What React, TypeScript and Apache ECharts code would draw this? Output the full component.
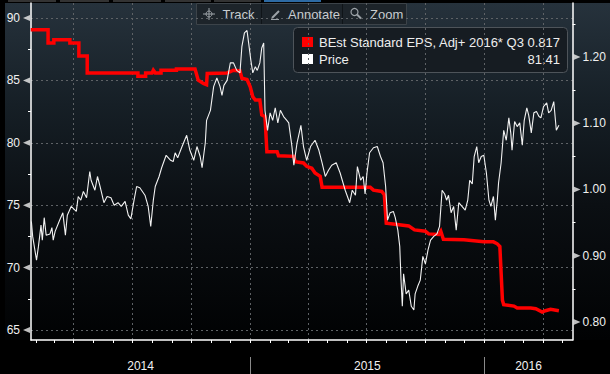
import React, { useEffect, useRef } from 'react';
import * as echarts from 'echarts';

const DAY = 86400000;
const EPOCH = Date.UTC(2014, 0, 1);

// Price (left axis) — dates as days since 2014-01-01
const priceDays = [24,26,32,35,39,41,44,47,53,56,58,61,68,73,77,80,86,94,97,101,105,110,115,117,123,127,131,137,142,148,153,159,164,170,175,179,184,188,193,201,206,210,214,217,223,227,234,241,245,248,252,258,266,271,277,282,287,290,295,297,303,308,313,318,321,324,329,334,339,344,349,352,356,360,362,366,369,373,376,380,383,386,388,392,396,400,404,408,412,417,422,425,430,433,438,444,448,453,459,466,472,477,482,487,492,499,505,513,520,524,529,532,537,541,544,547,551,557,563,568,572,576,579,583,588,591,595,598,600,602,604,608,612,616,620,622,626,630,634,638,642,646,651,656,660,664,668,671,674,678,682,686,690,695,700,704,707,711,714,718,721,725,729,733,737,740,744,747,750,752,756,760,764,768,771,773,777,781,785,789,792,796,799,803,807,811,815,818,822,827,830,834,838,842,846];
const priceValues = [73.7,72.5,70.6,71.7,73.4,72.2,74.0,72.6,72.7,73.2,72.2,72.9,73.8,74.4,72.6,74.2,74.9,74.5,75.7,75.4,76.1,75.6,77.7,77.0,76.2,77.3,76.5,75.2,75.7,75.6,75.0,75.2,74.9,75.3,74.2,73.9,75.4,76.5,76.4,75.8,74.9,73.3,75.4,76.5,77.3,78.0,79.0,78.6,78.5,79.2,78.8,79.6,80.6,79.4,78.6,79.7,78.9,78.0,80.0,81.8,82.6,84.5,85.2,84.5,83.8,84.6,85.0,86.4,86.4,85.8,85.6,87.7,88.8,89.0,88.2,86.6,85.6,86.1,85.8,86.4,87.6,88.0,82.6,81.0,82.4,81.8,82.8,81.6,82.6,82.1,81.8,81.6,79.7,78.2,80.0,81.4,79.7,78.6,79.7,80.2,79.4,78.4,77.3,77.8,78.2,78.4,77.6,76.2,75.2,76.2,75.8,78.1,77.0,77.3,75.9,77.6,79.2,79.6,79.7,78.9,78.4,76.5,73.8,74.4,74.5,74.0,73.0,71.7,69.0,66.9,69.5,67.9,68.2,66.9,66.6,67.9,68.5,69.0,70.9,70.3,71.4,72.2,72.5,72.7,73.3,76.2,75.9,75.4,75.8,74.4,74.9,73.0,75.2,74.9,74.6,75.4,77.0,76.7,78.9,79.7,78.4,78.9,79.0,77.6,75.4,74.9,75.7,73.8,75.4,76.8,78.4,81.0,80.2,82.0,80.8,79.4,81.7,81.3,81.6,79.8,81.8,82.8,82.2,80.8,82.4,82.5,82.1,82.0,82.9,83.2,82.4,82.6,83.3,81.0,81.41];

// BEst EPS (right axis) — dates as days since 2014-01-01
const epsDays = [23,50,50,59,59,84,84,98,98,111,111,190,190,202,202,212,214,217,226,226,250,250,279,284,292,297,298,329,334,339,349,352,360,365,369,373,380,383,388,391,407,409,433,435,448,453,461,466,474,477,552,557,570,574,577,594,612,621,638,643,659,662,666,698,729,744,750,754,758,760,776,781,802,810,820,825,833,846];
const epsValues = [1.241,1.241,1.221,1.221,1.226,1.226,1.221,1.221,1.2015,1.2015,1.176,1.176,1.171,1.171,1.176,1.176,1.180,1.176,1.176,1.180,1.180,1.182,1.182,1.165,1.160,1.158,1.175,1.176,1.178,1.180,1.179,1.168,1.166,1.155,1.140,1.135,1.135,1.1125,1.110,1.057,1.057,1.051,1.050,1.042,1.040,1.035,1.032,1.025,1.020,1.0035,1.0035,0.999,0.997,0.992,0.949,0.947,0.945,0.939,0.937,0.933,0.932,0.937,0.925,0.924,0.921,0.921,0.918,0.914,0.833,0.826,0.824,0.821,0.821,0.820,0.815,0.817,0.819,0.817];

const leftLabels = [65, 70, 75, 80, 85, 90];
const leftMinorTicks = [67.5, 72.5, 77.5, 82.5, 87.5];
const rightLabels = [0.8, 0.9, 1.0, 1.1, 1.2];
const rightMinorTicks = [0.85, 0.95, 1.05, 1.15, 1.25];
const years = [2014, 2015, 2016];

const epsLegendName = 'BEst Standard EPS, Adj+ 2016* Q3';
const priceLegendName = 'Price';
const toolbarItems = ['Track', 'Annotate', 'Zoom'];

const FONT = 'Liberation Sans, Arial, sans-serif';

export default function App() {
  const ref = useRef<HTMLDivElement>(null);

  useEffect(() => {
    if (!ref.current) return;
    const chart = echarts.init(ref.current, null, { renderer: 'svg' });

    const xMin = EPOCH + 23.4 * DAY;
    const xMax = EPOCH + 867.2 * DAY;

    const monthTicks: number[] = [];
    const quarterLines: number[] = [];
    for (let y = 2014; y <= 2016; y++) {
      for (let m = 0; m < 12; m++) {
        const t = Date.UTC(y, m, 1);
        if (t > xMin && t < xMax) {
          monthTicks.push(t);
          if (m % 3 === 0) quarterLines.push(t);
        }
      }
    }
    const yearBounds = years.slice(1).map((y) => Date.UTC(y, 0, 1));
    const yearMids = years.map((y) => {
      const a = Math.max(xMin, Date.UTC(y, 0, 1));
      const b = Math.min(xMax, Date.UTC(y + 1, 0, 1));
      return (a + b) / 2;
    });

    const priceData = priceDays.map((d, i) => [EPOCH + d * DAY, priceValues[i]]);
    const epsData = epsDays.map((d, i) => [EPOCH + d * DAY, epsValues[i]]);

    const bg = new echarts.graphic.LinearGradient(0, 0, 0, 1, [
      { offset: 0, color: '#26323c' },
      { offset: 0.3, color: '#161f26' },
      { offset: 0.6, color: '#0b0f13' },
      { offset: 1, color: '#010203' },
    ]);

    const iconColor = '#9da3a8';
    const tabColor = '#333333';
    const gridStyle = { color: '#5e6266', type: [2, 3], width: 1 };

    const option: any = {
      animation: false,
      backgroundColor: '#000000',
      grid: { left: 31, right: 37.5, top: 3, bottom: 34, containLabel: false },
      xAxis: [
        {
          type: 'value',
          min: xMin,
          max: xMax,
          position: 'bottom',
          axisLine: { show: true, lineStyle: { color: '#ffffff', width: 1.5 } },
          axisTick: { show: true, customValues: monthTicks, length: 3, lineStyle: { color: '#ffffff' } },
          axisLabel: { show: false },
          splitLine: { show: false },
        },
        {
          type: 'value',
          min: xMin,
          max: xMax,
          position: 'bottom',
          offset: 17,
          axisLine: { show: false },
          axisTick: { show: true, customValues: yearBounds, length: 17, lineStyle: { color: '#8a8a8a' } },
          axisLabel: {
            show: true,
            customValues: yearMids,
            margin: 3,
            color: '#f2f2f2',
            fontSize: 12,
            fontFamily: FONT,
            formatter: (v: number) => String(new Date(v).getUTCFullYear()),
          },
          splitLine: { show: false },
        },
        {
          // hidden axis carrying the quarterly vertical grid lines
          type: 'value',
          min: xMin,
          max: xMax,
          show: true,
          axisLine: { show: false },
          axisTick: { show: false, customValues: quarterLines },
          axisLabel: { show: false, customValues: quarterLines },
          splitLine: { show: true, lineStyle: gridStyle },
        },
      ],
      yAxis: [
        {
          type: 'value',
          position: 'left',
          min: 64.2,
          max: 91.2,
          axisLine: { show: true, lineStyle: { color: '#ffffff', width: 1.5 } },
          axisTick: { show: true, customValues: leftMinorTicks, length: 3, lineStyle: { color: '#ffffff' } },
          axisLabel: {
            show: true,
            customValues: leftLabels,
            margin: 11,
            color: '#f0f0f0',
            fontSize: 12,
            fontFamily: FONT,
            formatter: (v: number) => String(v),
          },
          splitLine: { show: false },
        },
        {
          type: 'value',
          position: 'right',
          min: 0.7728,
          max: 1.2815,
          axisLine: { show: true, lineStyle: { color: '#ffffff', width: 1.5 } },
          axisTick: { show: true, customValues: rightMinorTicks, length: 3, lineStyle: { color: '#ffffff' } },
          axisLabel: {
            show: true,
            customValues: rightLabels,
            margin: 10,
            color: '#f0f0f0',
            fontSize: 12,
            fontFamily: FONT,
            formatter: (v: number) => v.toFixed(2),
          },
          splitLine: { show: false },
        },
        {
          // hidden axis carrying the horizontal grid lines of the left scale
          type: 'value',
          position: 'left',
          min: 64.2,
          max: 91.2,
          show: true,
          axisLine: { show: false },
          axisTick: { show: false, customValues: leftLabels },
          axisLabel: { show: false, customValues: leftLabels },
          splitLine: { show: true, lineStyle: gridStyle },
        },
      ],
      series: [
        {
          type: 'scatter',
          xAxisIndex: 0,
          yAxisIndex: 0,
          data: leftLabels.map((v) => [xMin, v]),
          symbol: 'path://M10,0L0,5L10,10Z',
          symbolSize: [7, 6],
          symbolOffset: [-4.5, 0],
          itemStyle: { color: '#eeeeee' },
          clip: false,
          silent: true,
          z: 5,
        },
        {
          type: 'scatter',
          xAxisIndex: 0,
          yAxisIndex: 1,
          data: rightLabels.map((v) => [xMax, v]),
          symbol: 'path://M0,0L10,5L0,10Z',
          symbolSize: [7, 6],
          symbolOffset: [4.5, 0],
          itemStyle: { color: '#eeeeee' },
          clip: false,
          silent: true,
          z: 5,
        },
        {
          name: epsLegendName,
          type: 'line',
          xAxisIndex: 0,
          yAxisIndex: 1,
          data: epsData,
          showSymbol: false,
          symbol: 'none',
          lineStyle: { color: '#ff0000', width: 3.5, join: 'miter' },
          z: 3,
        },
        {
          name: priceLegendName,
          type: 'line',
          xAxisIndex: 0,
          yAxisIndex: 0,
          data: priceData,
          showSymbol: false,
          symbol: 'none',
          lineStyle: { color: '#f2f2f2', width: 1.1 },
          z: 4,
        },
      ],
      graphic: [
        {
          type: 'rect',
          z: -10,
          silent: true,
          shape: { x: 5, y: 3, width: 605, height: 337 },
          style: { fill: bg },
        },
        { type: 'rect', silent: true, shape: { x: 8, y: 0, width: 48, height: 2 }, style: { fill: tabColor } },
        { type: 'rect', silent: true, shape: { x: 60, y: 0, width: 49, height: 2 }, style: { fill: tabColor } },
        { type: 'rect', silent: true, shape: { x: 113, y: 0, width: 48, height: 2 }, style: { fill: tabColor } },
        { type: 'rect', silent: true, shape: { x: 165, y: 0, width: 46, height: 2 }, style: { fill: tabColor } },
        { type: 'rect', silent: true, shape: { x: 214, y: 0, width: 47, height: 2 }, style: { fill: tabColor } },
        { type: 'rect', silent: true, shape: { x: 264, y: 0, width: 57, height: 2 }, style: { fill: '#2d6aa3' } },
        {
          type: 'group',
          silent: true,
          z: 20,
          children: [
            { type: 'rect', shape: { x: 196.5, y: 3.5, width: 210, height: 21 }, style: { fill: '#1d242a', stroke: '#3c4349', lineWidth: 1 } },
            { type: 'line', shape: { x1: 261.5, y1: 4, x2: 261.5, y2: 24 }, style: { stroke: '#0f1418', lineWidth: 1 } },
            { type: 'line', shape: { x1: 342.5, y1: 4, x2: 342.5, y2: 24 }, style: { stroke: '#0f1418', lineWidth: 1 } },
            { type: 'circle', shape: { cx: 209, cy: 14, r: 3 }, style: { fill: 'none', stroke: iconColor, lineWidth: 1 } },
            { type: 'line', shape: { x1: 203, y1: 14, x2: 215, y2: 14 }, style: { stroke: iconColor, lineWidth: 1 } },
            { type: 'line', shape: { x1: 209, y1: 8, x2: 209, y2: 20 }, style: { stroke: iconColor, lineWidth: 1 } },
            { type: 'line', shape: { x1: 272, y1: 18, x2: 279, y2: 11 }, style: { stroke: iconColor, lineWidth: 2 } },
            { type: 'line', shape: { x1: 271, y1: 19.5, x2: 279, y2: 19.5 }, style: { stroke: iconColor, lineWidth: 1 } },
            { type: 'circle', shape: { cx: 354.5, cy: 12, r: 3.5 }, style: { fill: 'none', stroke: iconColor, lineWidth: 1.2 } },
            { type: 'line', shape: { x1: 357, y1: 14.5, x2: 361, y2: 18.5 }, style: { stroke: iconColor, lineWidth: 2 } },
            { type: 'text', x: 222.5, y: 14, style: { text: toolbarItems[0], fill: '#c8ccd0', font: `13px ${FONT}`, verticalAlign: 'middle', align: 'left' } },
            { type: 'text', x: 288, y: 14, style: { text: toolbarItems[1], fill: '#c8ccd0', font: `13px ${FONT}`, verticalAlign: 'middle', align: 'left' } },
            { type: 'text', x: 370, y: 14, style: { text: toolbarItems[2], fill: '#c8ccd0', font: `13px ${FONT}`, verticalAlign: 'middle', align: 'left' } },
          ],
        },
        {
          type: 'group',
          silent: true,
          z: 20,
          children: [
            { type: 'rect', shape: { x: 293.5, y: 27.5, width: 274, height: 45, r: 4 }, style: { fill: '#161c22', stroke: '#4e545a', lineWidth: 1 } },
            { type: 'rect', shape: { x: 302, y: 37, width: 11, height: 10 }, style: { fill: '#ff0000' } },
            { type: 'rect', shape: { x: 302, y: 54, width: 11, height: 10 }, style: { fill: '#ffffff' } },
            { type: 'text', x: 319, y: 42.5, style: { text: epsLegendName, fill: '#eeeeee', font: `13px ${FONT}`, verticalAlign: 'middle', align: 'left' } },
            { type: 'text', x: 560, y: 42.5, style: { text: epsValues[epsValues.length - 1].toFixed(3), fill: '#eeeeee', font: `13px ${FONT}`, verticalAlign: 'middle', align: 'right' } },
            { type: 'text', x: 319, y: 59.5, style: { text: priceLegendName, fill: '#eeeeee', font: `13px ${FONT}`, verticalAlign: 'middle', align: 'left' } },
            { type: 'text', x: 560, y: 59.5, style: { text: priceValues[priceValues.length - 1].toFixed(2), fill: '#eeeeee', font: `13px ${FONT}`, verticalAlign: 'middle', align: 'right' } },
          ],
        },
      ],
    };

    chart.setOption(option);
    return () => chart.dispose();
  }, []);

  return <div ref={ref} style={{ position: 'fixed', left: 0, top: 0, width: 610, height: 374 }} />;
}
